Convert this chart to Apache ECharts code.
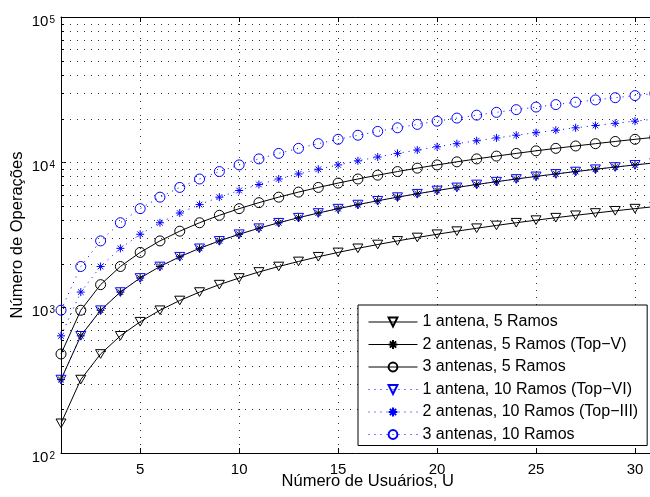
<!DOCTYPE html>
<html><head><meta charset="utf-8">
<script src="https://cdn.jsdelivr.net/npm/echarts@6/dist/echarts.min.js"></script>
<style>html,body{margin:0;padding:0;background:#fff}#c{width:650px;height:497px}</style>
</head><body><div id="c"></div>
<script>
// ---- data ----
const users = [1,2,3,4,5,6,7,8,9,10,11,12,13,14,15,16,17,18,19,20,21,22,23,24,25,26,27,28,29,30,31];
const ant1ramos5  = [160,320,480,640,800,960,1120,1280,1440,1600,1760,1920,2080,2240,2400,2560,2720,2880,3040,3200,3360,3520,3680,3840,4000,4160,4320,4480,4640,4800,4960];
const ant2ramos5  = [320,640,960,1280,1600,1920,2240,2560,2880,3200,3520,3840,4160,4480,4800,5120,5440,5760,6080,6400,6720,7040,7360,7680,8000,8320,8640,8960,9280,9600,9920];
const ant3ramos5  = [480,960,1440,1920,2400,2880,3360,3840,4320,4800,5280,5760,6240,6720,7200,7680,8160,8640,9120,9600,10080,10560,11040,11520,12000,12480,12960,13440,13920,14400,14880];
const ant1ramos10 = [320,640,960,1280,1600,1920,2240,2560,2880,3200,3520,3840,4160,4480,4800,5120,5440,5760,6080,6400,6720,7040,7360,7680,8000,8320,8640,8960,9280,9600,9920];
const ant2ramos10 = [640,1280,1920,2560,3200,3840,4480,5120,5760,6400,7040,7680,8320,8960,9600,10240,10880,11520,12160,12800,13440,14080,14720,15360,16000,16640,17280,17920,18560,19200,19840];
const ant3ramos10 = [960,1920,2880,3840,4800,5760,6720,7680,8640,9600,10560,11520,12480,13440,14400,15360,16320,17280,18240,19200,20160,21120,22080,23040,24000,24960,25920,26880,27840,28800,29760];
const seriesNames = ['1 antena, 5 Ramos','2 antenas, 5 Ramos (Top\u2212V)','3 antenas, 5 Ramos','1 antena, 10 Ramos (Top\u2212VI)','2 antenas, 10 Ramos (Top\u2212III)','3 antenas, 10 Ramos'];
const xTicks = [5,10,15,20,25,30];
const yGridVals = [200,300,400,500,600,700,800,900,1000,2000,3000,4000,5000,6000,7000,8000,9000,10000,20000,30000,40000,50000,60000,70000,80000,90000];
const xMin = 1, xMax = 32, yMin = 100, yMax = 100000;

const FONT = '"Liberation Sans", Arial, Helvetica, sans-serif';
const TRI = 'path://M0,0L10,0L5,8.66Z';
const STAR = 'path://M5,0L5,10M0,5L10,5M1.46,1.46L8.54,8.54M8.54,1.46L1.46,8.54';

function pts(vals) { return users.map((u, i) => [u, vals[i]]); }

function mk(name, vals, sym, size, color, dotted, z) {
  const hollowFill = sym === STAR ? 'none' : 'rgba(0,0,0,0)';
  return {
    name: name, type: 'line', data: pts(vals), z: z,
    symbol: sym, symbolSize: size, symbolKeepAspect: true, showAllSymbol: true,
    lineStyle: { color: color, width: 1, type: dotted ? [1, 5] : 'solid' },
    itemStyle: { color: hollowFill, borderColor: color, borderWidth: 1 },
    emphasis: { disabled: true }, clip: true, silent: true
  };
}

const chart = echarts.init(document.getElementById('c'), null, { renderer: 'canvas' });
chart.setOption({
  animation: false,
  textStyle: { fontFamily: FONT },
  grid: { left: 61, top: 17, right: -24.6, bottom: 44, containLabel: false, outerBoundsMode: 'none' },
  xAxis: [{
    type: 'value', min: xMin, max: xMax, splitNumber: 6,
    name: 'Número de Usuários, U', nameLocation: 'middle', nameGap: 28.5, nameMoveOverlap: false,
    nameTextStyle: { fontSize: 16.5, color: '#000', fontFamily: FONT, verticalAlign: 'middle' },
    axisLine: { show: true, lineStyle: { color: '#000', width: 1 } },
    axisTick: { show: true, inside: true, length: 5, lineStyle: { color: '#000' } },
    axisLabel: { fontSize: 15, color: '#000', margin: 9, fontFamily: FONT,
      formatter: v => (xTicks.indexOf(v) >= 0 ? String(v) : '') },
    splitLine: { show: true, lineStyle: { color: '#333', type: [1, 6], width: 1 } }
  }, {
    type: 'value', position: 'top', min: xMin, max: xMax, splitNumber: 6,
    axisLine: { show: true, lineStyle: { color: '#000', width: 1 } },
    axisTick: { show: true, inside: true, length: 5, lineStyle: { color: '#000' } },
    axisLabel: { show: false }, splitLine: { show: false }
  }],
  yAxis: {
    type: 'log', logBase: 10, min: yMin, max: yMax,
    name: 'Número de Operações', nameLocation: 'middle', nameGap: 44, nameMoveOverlap: false,
    nameTextStyle: { fontSize: 16.5, color: '#000', fontFamily: FONT, verticalAlign: 'middle' },
    axisLine: { show: true, lineStyle: { color: '#000', width: 1 } },
    axisTick: { show: true, inside: true, length: 5, lineStyle: { color: '#000' } },
    axisLabel: {
      margin: 6, color: '#000', fontFamily: FONT,
      formatter: v => '{b|10}{s|' + Math.round(Math.log10(v)) + '}',
      rich: {
        b: { fontSize: 15, lineHeight: 18, padding: [6, 0, 0, 0], verticalAlign: 'top', color: '#000', fontFamily: FONT },
        s: { fontSize: 10, lineHeight: 10, padding: [7, 0, 0, 1], verticalAlign: 'top', color: '#000', fontFamily: FONT }
      }
    },
    splitLine: { show: false }
  },
  legend: {
    data: seriesNames, orient: 'vertical', left: 358, top: 305,
    itemWidth: 49, itemHeight: 11, itemGap: 6.5,
    padding: [9, 9, 3, 10],
    backgroundColor: '#fff', borderColor: '#000', borderWidth: 1, borderRadius: 0,
    lineStyle: { width: 1 },
    textStyle: { fontSize: 16, color: '#000', fontFamily: FONT },
    selectedMode: false
  },
  series: [
    {
      type: 'custom', coordinateSystem: 'cartesian2d', silent: true, z: 1,
      data: yGridVals.map(v => [xMin, v]),
      renderItem: function (params, api) {
        const v = api.value(1);
        const p0 = api.coord([xMin, v]);
        const p1 = api.coord([xMax, v]);
        const y = Math.round(p0[1]) + 0.5;
        const major = Math.abs(Math.log10(v) - Math.round(Math.log10(v))) < 1e-9;
        const children = [
          { type: 'line', shape: { x1: p0[0] + 2, y1: y, x2: p1[0], y2: y },
            style: { stroke: '#333', lineDash: [1, 6], lineWidth: 1 } }
        ];
        if (!major) children.push({ type: 'line', shape: { x1: p0[0], y1: y, x2: p0[0] + 3, y2: y }, style: { stroke: '#000', lineWidth: 1 } });
        return { type: 'group', children: children };
      }
    },
    mk(seriesNames[0], ant1ramos5, TRI, 10, '#000', false, 2),
    mk(seriesNames[1], ant2ramos5, STAR, 8, '#000', false, 2),
    mk(seriesNames[2], ant3ramos5, 'circle', 10, '#000', false, 2),
    mk(seriesNames[3], ant1ramos10, TRI, 10, '#0000ff', true, 3),
    mk(seriesNames[4], ant2ramos10, STAR, 8, '#0000ff', true, 3),
    mk(seriesNames[5], ant3ramos10, 'circle', 10, '#0000ff', true, 3)
  ]
});
</script></body></html>
